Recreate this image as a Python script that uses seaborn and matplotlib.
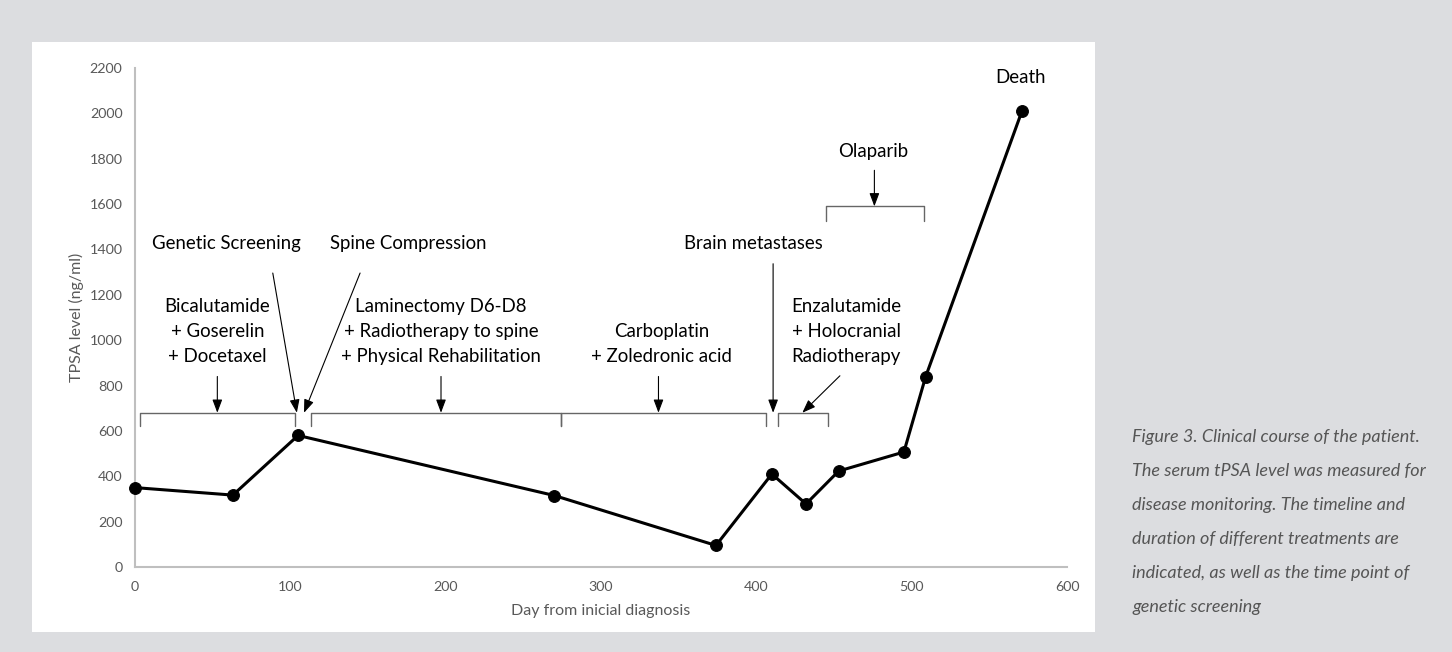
import numpy as np
import pandas as pd
import seaborn as sns
import matplotlib.pyplot as plt
from matplotlib.patches import Rectangle

# tPSA measurements
days = [0, 63, 105, 270, 374, 410, 432, 453, 495, 509, 571]
tpsa = [350, 317, 580, 315, 95, 410, 278, 423, 507, 839, 2010]

# treatment brackets: (start, end) at bracket level
bracket_start = [3, 113, 274, 414, 445]
bracket_end = [103, 274, 406, 446, 508]
bracket_level = [680, 680, 680, 680, 1590]
bracket_drop = [620, 620, 620, 620, 1524]

# labels: text, x, y
labels = [
    ("Genetic Screening", 59, 1425),
    ("Spine Compression", 176, 1425),
    ("Bicalutamide\n+ Goserelin\n+ Docetaxel", 53, 1039),
    ("Laminectomy D6-D8\n+ Radiotherapy to spine\n+ Physical Rehabilitation", 197, 1039),
    ("Carboplatin\n+ Zoledronic acid", 339, 984),
    ("Brain metastases", 398, 1425),
    ("Enzalutamide\n+ Holocranial\nRadiotherapy", 458, 1039),
    ("Olaparib", 475, 1833),
    ("Death", 570, 2159),
]

# arrows: (x_from, y_from, x_to, y_to)
arrows = [
    (53, 840, 53, 680),
    (197, 840, 197, 680),
    (337, 840, 337, 680),
    (88.7, 1296, 104.2, 680),
    (144.9, 1296, 108.8, 680),
    (410.8, 1337, 410.8, 680),
    (453.8, 843, 429.6, 680),
    (476, 1749, 476, 1590),
]

caption = ("Figure 3. Clinical course of the patient.\n"
           "The serum tPSA level was measured for\n"
           "disease monitoring. The timeline and\n"
           "duration of different treatments are\n"
           "indicated, as well as the time point of\n"
           "genetic screening")

sns.set_style("white")
plt.rcParams['font.family'] = ['Lato', 'DejaVu Sans']

fig = plt.figure(figsize=(14.52, 6.52), dpi=100, facecolor='#dcdde0')
fig.patches.append(Rectangle((32 / 1452, 20 / 652), 1063 / 1452, 590 / 652,
                             transform=fig.transFigure, facecolor='white',
                             edgecolor='none', zorder=-10))
ax = fig.add_axes([135 / 1452, 85 / 652, 932 / 1452, 499 / 652])
ax.set_facecolor('none')

df = pd.DataFrame({'day': days, 'tpsa': tpsa})
sns.lineplot(data=df, x='day', y='tpsa', color='black', lw=2.2, marker='o',
             markersize=8.5, markeredgecolor='black', ax=ax)
for ln in ax.lines:
    ln.set_clip_on(False)
    ln.set_zorder(5)

for s, e, lv, dr in zip(bracket_start, bracket_end, bracket_level, bracket_drop):
    ax.plot([s, s, e, e], [dr, lv, lv, dr], color='#666666', lw=1)

for x0, y0, x1, y1 in arrows:
    ax.annotate('', xy=(x1, y1), xytext=(x0, y0),
                arrowprops=dict(arrowstyle='-|>,head_length=0.8,head_width=0.3',
                                color='black', lw=0.8, shrinkA=0, shrinkB=0))

for txt, x, y in labels:
    ax.text(x, y, txt, ha='center', va='center', fontsize=13.4,
            color='black', linespacing=1.55)

ax.set_xlim(0, 600)
ax.set_ylim(0, 2200)
ax.set_xticks(np.arange(0, 601, 100))
ax.set_yticks(np.arange(0, 2201, 200))
ax.tick_params(axis='both', colors='#595959', labelsize=10.3, length=0)
ax.tick_params(axis='x', pad=10)
ax.tick_params(axis='y', pad=9)
ax.set_xlabel('Day from inicial diagnosis', color='#595959', fontsize=11.5, labelpad=8)
ax.set_ylabel('TPSA level (ng/ml)', color='#595959', fontsize=11.5, labelpad=4)
sns.despine(ax=ax)
for sp in ['left', 'bottom']:
    ax.spines[sp].set_color('#bfbfbf')
    ax.spines[sp].set_linewidth(1.5)

fig.text(1132 / 1452, 1 - 429 / 652, caption, ha='left', va='top',
         fontsize=13, style='italic', color='#555555', linespacing=2.38)

fig.savefig('out.png', dpi=100, facecolor=fig.get_facecolor())
